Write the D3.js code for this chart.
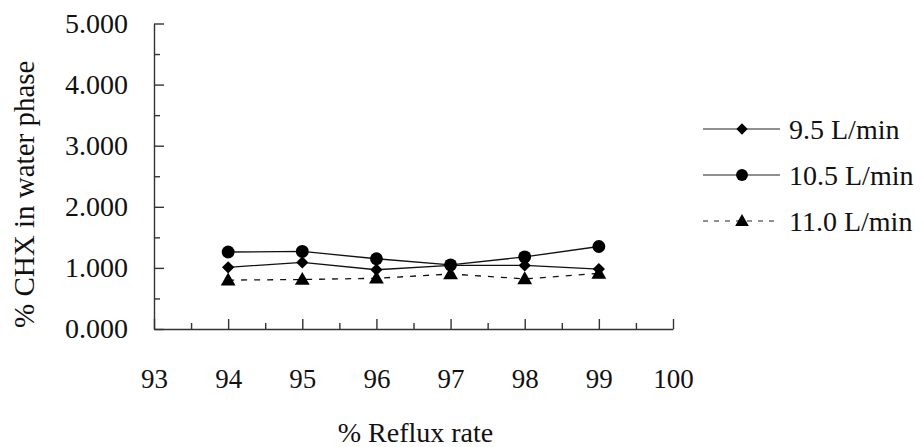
<!DOCTYPE html>
<html>
<head>
<meta charset="utf-8">
<script src="https://cdn.jsdelivr.net/npm/d3@7"></script>
</head>
<body style="margin:0">
<svg id="fig" width="924" height="447"></svg>
<script>
// ---- data ----
const refluxRate = [94, 95, 96, 97, 98, 99];
const flow95  = [1.01, 1.09, 0.97, 1.04, 1.04, 0.98];
const flow105 = [1.26, 1.27, 1.15, 1.05, 1.18, 1.35];
const flow110 = [0.80, 0.81, 0.83, 0.90, 0.82, 0.91];
const seriesNames = ["9.5 L/min", "10.5 L/min", "11.0 L/min"];
const xTicks = [93, 94, 95, 96, 97, 98, 99, 100];
const yTicks = [0, 1, 2, 3, 4, 5];

const FONT = "'Liberation Serif'";
const series = [
  { name: seriesNames[0], values: flow95,  symbol: d3.symbolSquare,   rot: 45, dash: null,  size: 75 },
  { name: seriesNames[1], values: flow105, symbol: d3.symbolCircle,   rot: 0,  dash: null,  size: 130 },
  { name: seriesNames[2], values: flow110, symbol: d3.symbolTriangle, rot: 0,  dash: "6,7", size: 95 }
];

const svg = d3.select("#fig");
const x = d3.scaleLinear().domain([93, 100]).range([154, 673]);
const y = d3.scaleLinear().domain([0, 5]).range([329, 23.5]);
const axisColor = "#333";

function serif(sel, size) {
  sel.attr("font-family", FONT).attr("font-size", size)
    .style("font-family", FONT).style("font-size", size + "px").attr("fill", "#111");
}

// y axis major
const yAxis = svg.append("g").attr("transform", `translate(${x(93)},0)`)
  .call(d3.axisLeft(y).tickValues(yTicks).tickSizeInner(-10).tickSizeOuter(0)
    .tickPadding(26).tickFormat(d3.format(".3f")));
// y axis minor
svg.append("g").attr("transform", `translate(${x(93)},0)`)
  .call(d3.axisLeft(y).tickValues([0.5, 1.5, 2.5, 3.5, 4.5]).tickSizeInner(-6).tickSizeOuter(0).tickFormat(""))
  .select(".domain").remove();

// x axis major
const xAxis = svg.append("g").attr("transform", `translate(0,${y(0)})`)
  .call(d3.axisBottom(x).tickValues(xTicks).tickSizeInner(-10).tickSizeOuter(0).tickFormat(d3.format("d")));
xAxis.selectAll("text").attr("y", 59).attr("dy", "0");
// x axis minor
svg.append("g").attr("transform", `translate(0,${y(0)})`)
  .call(d3.axisBottom(x).tickValues(d3.range(93.5, 100, 1)).tickSizeInner(-6).tickSizeOuter(0).tickFormat(""))
  .select(".domain").remove();

svg.selectAll("g").attr("font-family", null).attr("font-size", null);
svg.selectAll(".domain, .tick line").attr("stroke", axisColor).attr("stroke-width", 1.4);
serif(yAxis.selectAll("text"), 28);
serif(xAxis.selectAll("text"), 27);

// axis titles
svg.append("text")
  .attr("transform", `translate(34,${(y(0) + y(5)) / 2 + 18}) rotate(-90)`)
  .attr("text-anchor", "middle").call(serif, 29)
  .text("% CHX in water phase");
svg.append("text")
  .attr("x", (x(93) + x(100)) / 2 + 2).attr("y", 442)
  .attr("text-anchor", "middle").call(serif, 28)
  .text("% Reflux rate");

// lines and markers
const line = d3.line().x((d, i) => x(refluxRate[i])).y(d => y(d));
series.forEach(s => {
  svg.append("path").datum(s.values)
    .attr("d", line).attr("fill", "none").attr("stroke", "#111")
    .attr("stroke-width", 1.3).attr("stroke-dasharray", s.dash);
});
series.forEach(s => {
  svg.selectAll(null).data(s.values).enter().append("path")
    .attr("transform", (d, i) => `translate(${x(refluxRate[i])},${y(d) + (s.symbol === d3.symbolTriangle ? 1 : 0)}) rotate(${s.rot})`)
    .attr("d", d3.symbol().type(s.symbol).size(s.size))
    .attr("fill", "#000");
});

// legend
const legendY = [129, 175, 221];
series.forEach((s, i) => {
  const g = svg.append("g").attr("transform", `translate(0,${legendY[i]})`);
  g.append("line").attr("x1", 703).attr("x2", 780).attr("y1", 0).attr("y2", 0)
    .attr("stroke", "#222").attr("stroke-width", 1.2)
    .attr("stroke-dasharray", s.dash ? "5,6" : null);
  g.append("path").attr("transform", `translate(742,${s.symbol === d3.symbolTriangle ? 1 : 0}) rotate(${s.rot})`)
    .attr("d", d3.symbol().type(s.symbol).size(s.size * 0.85)).attr("fill", "#000");
  g.append("text").attr("x", 789).attr("y", 0).attr("dy", "0.34em")
    .call(serif, 28).text(s.name);
});
</script>
</body>
</html>
